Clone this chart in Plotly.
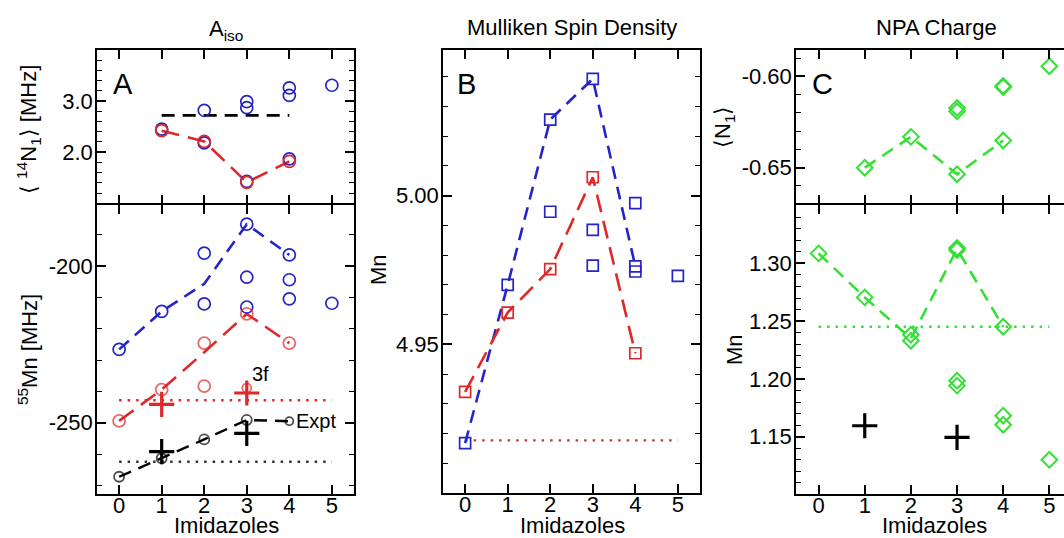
import plotly.graph_objects as go

W, H = 1064, 538

# ---------------- data ----------------
# Panel A (top): <14N1> [MHz]
a_top_blue_x = [1, 2, 2, 3, 3, 3, 4, 4, 4, 5]
a_top_blue_y = [2.45, 2.82, 2.18, 2.99, 2.87, 1.43, 3.26, 3.11, 1.87, 3.31]
a_top_red_x = [1, 2, 3, 4]
a_top_red_y = [2.42, 2.21, 1.41, 1.82]
a_top_ref_x = [1, 4]
a_top_ref_y = [2.72, 2.72]

# Panel A (bottom): 55Mn [MHz]
a_bot_blue_x = [0, 1, 2, 2, 3, 3, 3, 4, 4, 4, 5]
a_bot_blue_y = [-226.6, -214.5, -195.9, -212.1, -186.7, -203.6, -213.1, -196.5, -204.4, -210.5, -211.9]
a_bot_blue_line_x = [0, 1, 2, 3, 4]
a_bot_blue_line_y = [-226.6, -214.5, -205.7, -186.7, -196.5]
a_bot_red_x = [0, 1, 2, 2, 3, 4, 3]
a_bot_red_y = [-249.4, -239.4, -224.6, -238.3, -215.3, -224.6, -238.9]
a_bot_red_line_x = [0, 1, 2, 3, 4]
a_bot_red_line_y = [-249.4, -239.4, -227.5, -215.3, -224.6]
a_bot_red_plus_x = [1, 3]
a_bot_red_plus_y = [-244.1, -240.5]
a_bot_red_ref_x = [0, 5]
a_bot_red_ref_y = [-242.8, -242.8]
a_bot_expt_x = [0, 1, 2, 3, 4]
a_bot_expt_y = [-267.2, -261.3, -255.3, -249.1, -249.5]
a_bot_blk_plus_x = [1, 3]
a_bot_blk_plus_y = [-259.2, -253.4]
a_bot_blk_ref_x = [0, 5]
a_bot_blk_ref_y = [-262.4, -262.4]

# Panel B: Mulliken spin density on Mn
b_blue_x = [0, 1, 2, 2, 3, 3, 3, 4, 4, 4, 5]
b_blue_y = [4.9168, 4.9700, 5.0256, 4.9946, 5.0393, 4.9885, 4.9765, 4.9975, 4.9762, 4.9745, 4.9730]
b_blue_line_x = [0, 1, 2, 3, 4]
b_blue_line_y = [4.9168, 4.9700, 5.0256, 5.0393, 4.9762]
b_red_x = [0, 1, 2, 3, 4]
b_red_y = [4.9340, 4.9607, 4.9753, 5.0062, 4.9470]
b_ref_x = [0, 5]
b_ref_y = [4.9177, 4.9177]

# Panel C (top): NPA charge <N1>
c_top_x = [1, 2, 3, 3, 3, 4, 4, 4, 5]
c_top_y = [-0.6500, -0.6331, -0.6536, -0.6173, -0.6191, -0.6351, -0.6052, -0.6058, -0.5944]
c_top_line_x = [1, 2, 3, 4]
c_top_line_y = [-0.6500, -0.6331, -0.6536, -0.6351]

# Panel C (bottom): NPA charge Mn
c_bot_x = [0, 1, 2, 2, 3, 3, 3, 3, 4, 4, 4, 5]
c_bot_y = [1.3087, 1.2706, 1.2383, 1.2331, 1.3133, 1.3116, 1.1985, 1.1942, 1.2452, 1.1682, 1.1604, 1.1300]
c_bot_line_x = [0, 1, 2, 3, 4]
c_bot_line_y = [1.3087, 1.2706, 1.2350, 1.3125, 1.2452]
c_bot_ref_x = [0, 5]
c_bot_ref_y = [1.2452, 1.2452]
c_bot_plus_x = [1, 3]
c_bot_plus_y = [1.1595, 1.1494]

x_ticks = [0, 1, 2, 3, 4, 5]

# ---------------- style ----------------
FONT = "Liberation Sans, Arial, Helvetica, sans-serif"
BLUE = "#2424c8"
RED = "#e02828"
GREEN = "#34e034"
BLACK = "#000000"
DASH = "13px,8px"
LDASH = "18px,9px"
DOT = "2.5px,6px"


def px_x(p):
    return p / W


def px_y(p):
    return 1 - p / H


fig = go.Figure()


def add(x, y, ax, **kw):
    fig.add_trace(go.Scatter(x=x, y=y, xaxis="x" + ax, yaxis="y" + ax,
                             showlegend=False, hoverinfo="skip", **kw))


def line(x, y, ax, color, dash, width=2.6):
    add(x, y, ax, mode="lines", line=dict(color=color, width=width, dash=dash))


def markers(x, y, ax, color, symbol, size, width=1.7):
    add(x, y, ax, mode="markers",
        marker=dict(symbol=symbol, size=size, color=color,
                    line=dict(color=color, width=width)))


def plus(x, y, ax, color):
    add(x, y, ax, mode="markers",
        marker=dict(symbol="cross-thin", size=18, color=color,
                    line=dict(color=color, width=3.2)))


# Panel A top
line(a_top_ref_x, a_top_ref_y, "", BLACK, DASH)
line(a_top_red_x, a_top_red_y, "", RED, LDASH)
markers(a_top_blue_x, a_top_blue_y, "", BLUE, "circle-open", 12)
markers(a_top_red_x, a_top_red_y, "", RED, "circle-open", 12)

# Panel A bottom
line(a_bot_red_ref_x, a_bot_red_ref_y, "2", RED, DOT, 2.4)
line(a_bot_blk_ref_x, a_bot_blk_ref_y, "2", "#333333", DOT, 2.4)
line(a_bot_blue_line_x, a_bot_blue_line_y, "2", BLUE, DASH)
line(a_bot_red_line_x, a_bot_red_line_y, "2", RED, LDASH)
line(a_bot_expt_x, a_bot_expt_y, "2", BLACK, DASH, 2.4)
markers(a_bot_blue_x, a_bot_blue_y, "2", BLUE, "circle-open", 12)
add(a_bot_red_x, a_bot_red_y, "2", mode="markers",
    marker=dict(symbol="circle-open", size=[12, 12, 12, 12, 12, 12, 9],
                color=RED, line=dict(color=RED, width=1.8)))
add(a_bot_expt_x, a_bot_expt_y, "2", mode="markers",
    marker=dict(symbol="circle-open", size=[10, 10, 10, 10, 8],
                color=BLACK, line=dict(color=BLACK, width=1.8)))
plus(a_bot_red_plus_x, a_bot_red_plus_y, "2", RED)
plus(a_bot_blk_plus_x, a_bot_blk_plus_y, "2", BLACK)

# Panel B
line(b_ref_x, b_ref_y, "3", "#b83a3a", DOT, 2.4)
line(b_blue_line_x, b_blue_line_y, "3", BLUE, DASH)
line(b_red_x, b_red_y, "3", RED, LDASH)
markers(b_blue_x, b_blue_y, "3", BLUE, "square-open", 11)
markers(b_red_x, b_red_y, "3", RED, "square-open", 11)

# Panel C top
line(c_top_line_x, c_top_line_y, "4", GREEN, DASH)
markers(c_top_x, c_top_y, "4", GREEN, "diamond-open", 12, 2)

# Panel C bottom
line(c_bot_ref_x, c_bot_ref_y, "5", GREEN, DOT, 2.4)
line(c_bot_line_x, c_bot_line_y, "5", GREEN, DASH)
markers(c_bot_x, c_bot_y, "5", GREEN, "diamond-open", 12, 2)
plus(c_bot_plus_x, c_bot_plus_y, "5", BLACK)

# ---------------- axes ----------------
TICKFONT = dict(family=FONT, size=22, color="black")


def xax(domain, rng, anchor, labels, mirror="ticks"):
    d = dict(domain=domain, range=rng, anchor=anchor, tickvals=x_ticks,
             showticklabels=labels, ticks="inside", ticklen=9, tickwidth=1.6,
             tickcolor="black", showline=True, linewidth=1.5, linecolor="black",
             mirror=mirror, showgrid=False, zeroline=False, tickfont=TICKFONT,
             ticklabelstandoff=-9)
    return d


def yax(domain, rng, anchor, tickvals, ticktext, minor_dtick, minor_tick0, mirror="ticks"):
    return dict(domain=domain, range=rng, anchor=anchor, tickvals=tickvals,
                ticktext=ticktext, ticks="inside", ticklen=9, tickwidth=1.6,
                tickcolor="black", showline=True, linewidth=1.5, linecolor="black",
                mirror=mirror, showgrid=False, zeroline=False, tickfont=TICKFONT,
                ticklabelstandoff=-2,
                minor=dict(ticks="inside", ticklen=5, tickwidth=1.4, tickcolor="black",
                           dtick=minor_dtick, tick0=minor_tick0, showgrid=False))


dA = [px_x(97), px_x(354)]
dB = [px_x(443), px_x(700)]
dC = [px_x(796), 1.0]
top = [px_y(203.25), px_y(50)]
bot = [px_y(494), px_y(204.75)]
full = [px_y(493), px_y(50)]

xr = [-0.52, 5.52]
xrC = [-0.49, 5.318]

fig.update_layout(
    width=W, height=H, margin=dict(l=0, r=0, t=0, b=0),
    paper_bgcolor="white", plot_bgcolor="white",
    font=dict(family=FONT, color="black"),
    xaxis=xax(dA, xr, "y", False),
    yaxis=yax(top, [1.0, 4.0], "x", [2.0, 3.0], ["2.0", "3.0"], 0.2, 0),
    xaxis2=xax(dA, xr, "y2", True),
    yaxis2=yax(bot, [-272.7, -180.5], "x2", [-250, -200], ["-250", "-200"], 10, 0),
    xaxis3=xax(dB, xr, "y3", True),
    yaxis3=yax(full, [4.900, 5.049], "x3", [4.95, 5.00], ["4.95", "5.00"], 0.01, 0),
    xaxis4=xax(dC, xrC, "y4", False),
    yaxis4=yax(top, [-0.6695, -0.5855], "x4", [-0.65, -0.60], ["-0.65", "-0.60"], 0.01, 0, mirror=False),
    xaxis5=xax(dC, xrC, "y5", True),
    yaxis5=yax(bot, [1.1004, 1.3508], "x5", [1.15, 1.20, 1.25, 1.30],
               ["1.15", "1.20", "1.25", "1.30"], 0.01, 0, mirror=False),
)


def ann(text, x, y, size, angle=0, xanchor="center"):
    fig.add_annotation(text=text, x=px_x(x), y=px_y(y), xref="paper", yref="paper",
                       showarrow=False, textangle=angle, xanchor=xanchor, yanchor="middle",
                       font=dict(family=FONT, size=size, color="black"))


# titles
ann("A<sub>iso</sub>", 226, 30, 22)
ann("Mulliken Spin Density", 572, 28, 22)
ann("NPA Charge", 936, 28, 22)
# panel letters
ann("A", 123, 84, 29)
ann("B", 466, 84, 29)
ann("C", 822, 84, 29)
# y-axis titles
ann("\u27e8 <sup>14</sup>N<sub>1</sub>\u27e9 [MHz]", 28, 130, 22, -90)
ann("<sup>55</sup>Mn [MHz]", 28, 350, 22, -90)
ann("Mn", 378, 270, 22, -90)
ann("\u27e8N<sub>1</sub>\u27e9", 724, 127, 22, -90)
ann("Mn", 734, 350, 22, -90)
# x-axis titles
ann("Imidazoles", 226, 525, 22)
ann("Imidazoles", 572, 525, 22)
ann("Imidazoles", 934, 525, 22)
# in-plot labels
ann("3f", 260, 374, 20)
ann("Expt", 294, 421, 20, xanchor="left")

fig.write_html("out.html")
